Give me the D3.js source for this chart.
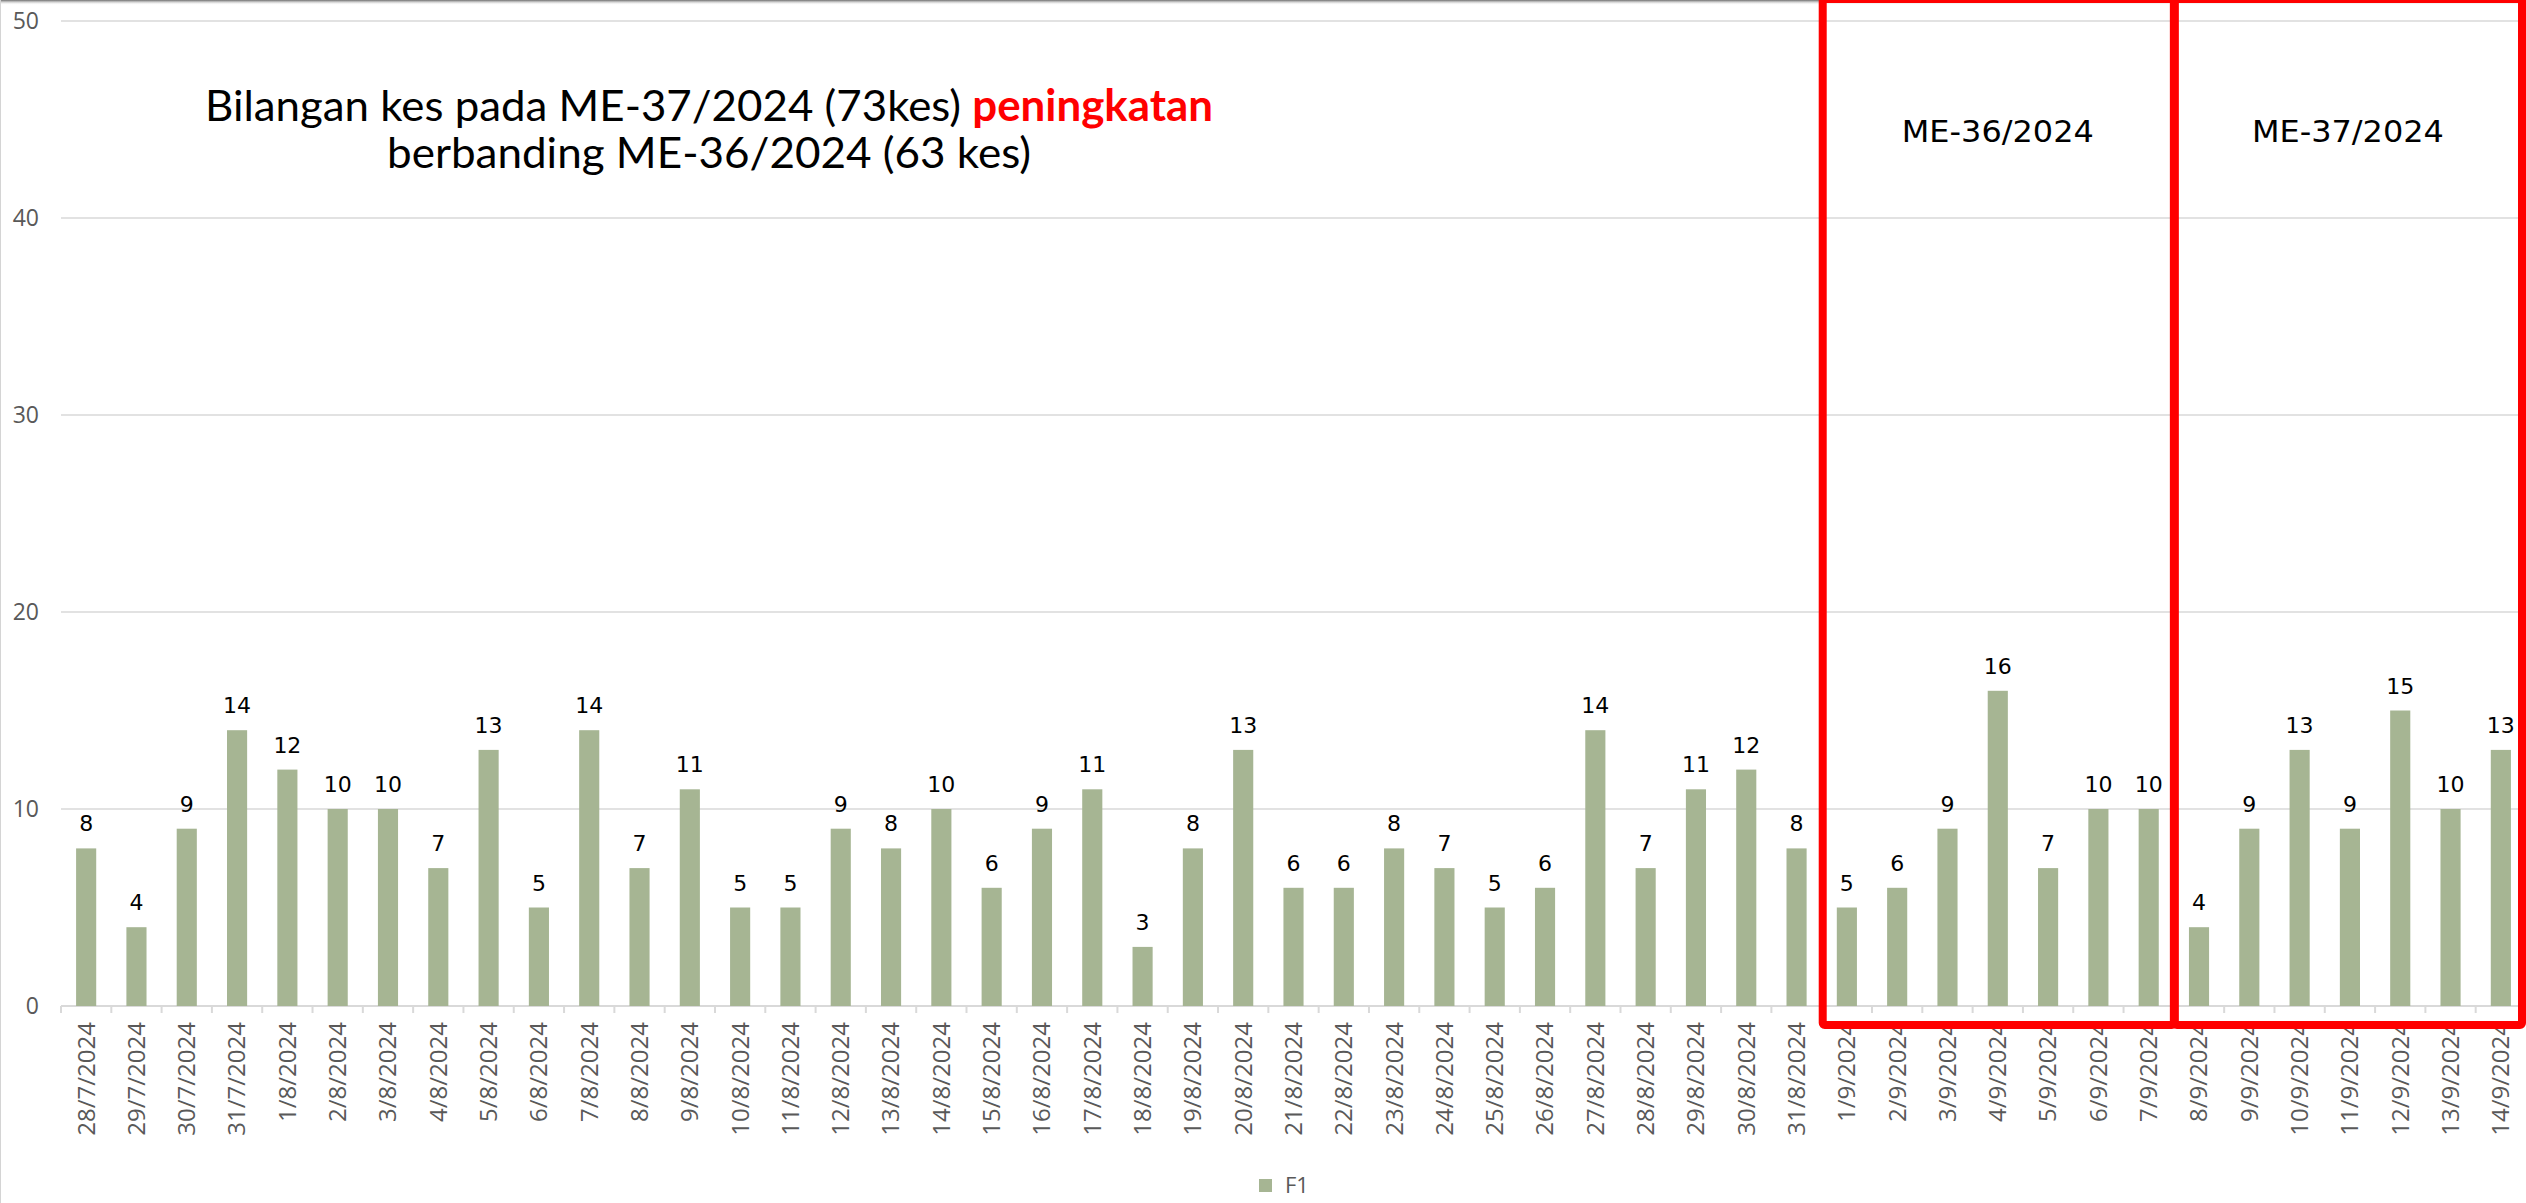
<!DOCTYPE html>
<html>
<head>
<meta charset="utf-8">
<script src="https://cdn.jsdelivr.net/npm/d3@7"></script>
<style>
  html, body { margin: 0; padding: 0; background: #fff; overflow: hidden; }
  svg { display: block; }
</style>
</head>
<body>
<script>
// dates and daily case counts
const dates = ['28/7/2024', '29/7/2024', '30/7/2024', '31/7/2024',
  '1/8/2024', '2/8/2024', '3/8/2024', '4/8/2024', '5/8/2024', '6/8/2024', '7/8/2024', '8/8/2024',
  '9/8/2024', '10/8/2024', '11/8/2024', '12/8/2024', '13/8/2024', '14/8/2024', '15/8/2024', '16/8/2024',
  '17/8/2024', '18/8/2024', '19/8/2024', '20/8/2024', '21/8/2024', '22/8/2024', '23/8/2024', '24/8/2024',
  '25/8/2024', '26/8/2024', '27/8/2024', '28/8/2024', '29/8/2024', '30/8/2024', '31/8/2024',
  '1/9/2024', '2/9/2024', '3/9/2024', '4/9/2024', '5/9/2024', '6/9/2024', '7/9/2024',
  '8/9/2024', '9/9/2024', '10/9/2024', '11/9/2024', '12/9/2024', '13/9/2024', '14/9/2024'];
const cases = [8, 4, 9, 14,
  12, 10, 10, 7, 13, 5, 14, 7,
  11, 5, 5, 9, 8, 10, 6, 9,
  11, 3, 8, 13, 6, 6, 8, 7,
  5, 6, 14, 7, 11, 12, 8,
  5, 6, 9, 16, 7, 10, 10,
  4, 9, 13, 9, 15, 10, 13];
const yTicks = [0, 10, 20, 30, 40, 50];
const seriesName = 'F1';

// highlighted weeks: first and last date of each box
const weeks = [
  {label: 'ME-36/2024', from: '1/9/2024', to: '7/9/2024'},
  {label: 'ME-37/2024', from: '8/9/2024', to: '14/9/2024'}
];

const width = 2526;
const height = 1203;
const barColor = '#a6b593';
const gridColor = '#d9d9d9';
const axisText = '#595959';

let svg = d3.select('body').append('svg')
  .attr('width', width)
  .attr('height', height);

let x = d3.scaleBand()
  .domain(dates)
  .range([61, 2526])
  .paddingInner(0.6)
  .paddingOuter(0.3);

let y = d3.scaleLinear()
  .domain([0, 50])
  .range([1006, 21]);

// slide frame: top shadow and left edge
let grad = svg.append('defs').append('linearGradient')
  .attr('id', 'topShade')
  .attr('x1', 0).attr('y1', 0).attr('x2', 0).attr('y2', 1);
grad.append('stop').attr('offset', 0).attr('stop-color', '#6e6e6e');
grad.append('stop').attr('offset', 1).attr('stop-color', '#ffffff').attr('stop-opacity', 0);
svg.append('rect')
  .attr('x', 0).attr('y', 0)
  .attr('width', width).attr('height', 5)
  .attr('fill', 'url(#topShade)');
svg.append('line')
  .attr('x1', 0.5).attr('x2', 0.5)
  .attr('y1', 0).attr('y2', height)
  .attr('stroke', '#d4d4d4')
  .attr('stroke-width', 1);

// gridlines
svg.append('g')
  .selectAll('line')
  .data(yTicks)
  .join('line')
  .attr('x1', x.range()[0])
  .attr('x2', x.range()[1])
  .attr('y1', d => y(d))
  .attr('y2', d => y(d))
  .attr('stroke', gridColor)
  .attr('stroke-width', d => d === 0 ? 2 : 1.5);

// y labels
svg.append('g')
  .selectAll('text')
  .data(yTicks)
  .join('text')
  .attr('x', 39)
  .attr('y', d => y(d))
  .attr('dy', '0.36em')
  .attr('text-anchor', 'end')
  .style('font-family', '"Open Sans", sans-serif')
  .style('font-size', '23px')
  .style('fill', axisText)
  .text(d => d);

// category tick marks sit on band boundaries
let step = x.step();
let bounds = dates.map(d => x(d) - step * x.paddingOuter());
bounds.push(x.range()[1]);
svg.append('g')
  .selectAll('line')
  .data(bounds)
  .join('line')
  .attr('x1', d => d)
  .attr('x2', d => d)
  .attr('y1', y(0))
  .attr('y2', y(0) + 7)
  .attr('stroke', gridColor)
  .attr('stroke-width', 2);

// bars
svg.append('g')
  .selectAll('rect')
  .data(cases)
  .join('rect')
  .attr('x', (d, i) => x(dates[i]))
  .attr('y', d => y(d))
  .attr('width', x.bandwidth())
  .attr('height', d => y(0) - y(d))
  .attr('fill', barColor);

// value labels
svg.append('g')
  .selectAll('text')
  .data(cases)
  .join('text')
  .attr('x', (d, i) => x(dates[i]) + x.bandwidth() / 2)
  .attr('y', d => y(d) - 17)
  .attr('text-anchor', 'middle')
  .style('font-family', '"DejaVu Sans", sans-serif')
  .style('font-size', '22px')
  .style('fill', '#000')
  .text(d => d);

// rotated date labels
svg.append('g')
  .selectAll('text')
  .data(dates)
  .join('text')
  .attr('transform', d => 'translate(' + (x(d) + x.bandwidth() / 2) + ',' + 1022 + ') rotate(-90)')
  .attr('dy', '0.35em')
  .attr('text-anchor', 'end')
  .style('font-family', '"Open Sans", sans-serif')
  .style('font-size', '24px')
  .style('fill', axisText)
  .text(d => d);

// title
let title = svg.append('text')
  .attr('x', 709)
  .attr('y', 121)
  .attr('text-anchor', 'middle')
  .attr('textLength', 1008)
  .attr('lengthAdjust', 'spacingAndGlyphs')
  .style('font-family', 'Lato, sans-serif')
  .style('font-size', '43px')
  .style('fill', '#000');
title.append('tspan').text('Bilangan kes pada ME-37/2024 (73kes) ');
title.append('tspan').style('fill', '#ff0000').style('font-weight', 'bold').text('peningkatan');

svg.append('text')
  .attr('x', 709)
  .attr('y', 168)
  .attr('text-anchor', 'middle')
  .attr('textLength', 644)
  .attr('lengthAdjust', 'spacingAndGlyphs')
  .style('font-family', 'Lato, sans-serif')
  .style('font-size', '43px')
  .style('fill', '#000')
  .text('berbanding ME-36/2024 (63 kes)');

// red week boxes
let boxes = weeks.map(w => {
  let left = x(w.from) - step * x.paddingOuter();
  let right = x(w.to) + x.bandwidth() + step * x.paddingOuter();
  return {label: w.label, left: left, right: Math.min(right, width - 4)};
});

let boxG = svg.append('g');
boxG.selectAll('rect')
  .data(boxes)
  .join('rect')
  .attr('x', d => d.left + 1)
  .attr('y', -1)
  .attr('width', d => d.right - d.left - 1)
  .attr('height', 1026)
  .attr('rx', 2)
  .attr('fill', 'none')
  .attr('stroke', '#ff0000')
  .attr('stroke-width', 8);

boxG.selectAll('text')
  .data(boxes)
  .join('text')
  .attr('x', d => (d.left + d.right) / 2)
  .attr('y', 142)
  .attr('text-anchor', 'middle')
  .attr('textLength', 192)
  .attr('lengthAdjust', 'spacingAndGlyphs')
  .style('font-family', '"DejaVu Sans", sans-serif')
  .style('font-size', '30px')
  .style('fill', '#000')
  .text(d => d.label);

// legend (kept just inside the bottom edge)
let legend = svg.append('g').attr('transform', 'translate(1259,1179)');
legend.append('rect')
  .attr('width', 13)
  .attr('height', 13)
  .attr('fill', barColor);
legend.append('text')
  .attr('x', 26)
  .attr('y', 14)
  .style('font-family', '"Open Sans", sans-serif')
  .style('font-size', '22px')
  .style('fill', axisText)
  .text(seriesName);
</script>
</body>
</html>
